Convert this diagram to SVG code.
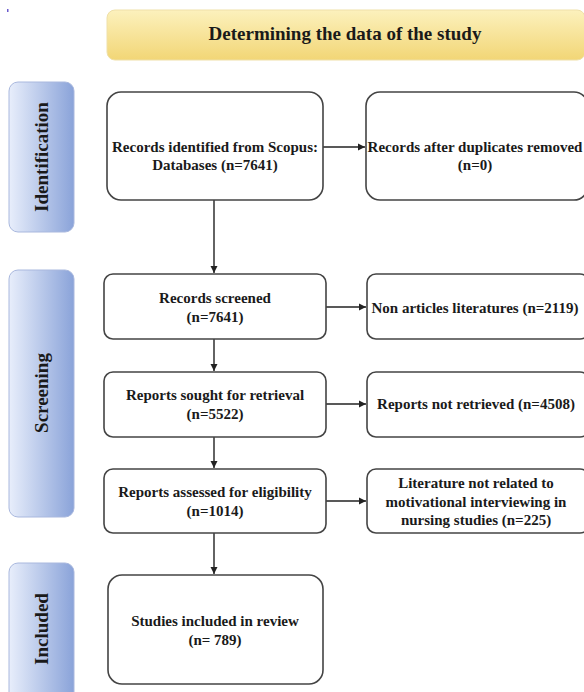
<svg xmlns="http://www.w3.org/2000/svg" width="584" height="692" viewBox="0 0 584 692">
<defs>
<linearGradient id="gBanner" x1="0" y1="0" x2="0" y2="1">
<stop offset="0" stop-color="#fcf1bd"/>
<stop offset="1" stop-color="#f2d676"/>
</linearGradient>
<linearGradient id="gSide" x1="0" y1="0" x2="1" y2="0">
<stop offset="0" stop-color="#e8eefb"/>
<stop offset="1" stop-color="#8aa3d9"/>
</linearGradient>
<marker id="arr" markerWidth="8" markerHeight="8" refX="7" refY="4" orient="auto" markerUnits="userSpaceOnUse">
<path d="M0,0.5 L7,4 L0,7.5 Z" fill="#222"/>
</marker>
<style>
.box{fill:#fff;stroke:#444;stroke-width:1.6}
.side{fill:url(#gSide);stroke:#a9b8de;stroke-width:1}
.t{font-family:"Liberation Serif","Times New Roman",serif;font-weight:bold;font-size:15px;fill:#1a1a1a;text-anchor:middle}
.st{font-family:"Liberation Serif","Times New Roman",serif;font-weight:bold;font-size:19px;fill:#1a1a1a;text-anchor:middle}
.c{stroke:#222;stroke-width:1.4;fill:none;marker-end:url(#arr)}
</style>
</defs>
<rect x="0" y="0" width="584" height="692" fill="#fff"/>
<rect x="7" y="9" width="1.5" height="3" fill="#6a5acd"/>

<g id="banner">
<rect x="107" y="10" width="478" height="50" rx="8" fill="url(#gBanner)" stroke="#efe0a8" stroke-width="1"/>
<text x="345" y="40" class="st" font-size="20">Determining the data of the study</text>
</g>

<g id="side-identification">
<rect x="9" y="82" width="65" height="150" rx="9" class="side"/>
<text class="st" transform="translate(48,157) rotate(-90)">Identification</text>
</g>
<g id="side-screening">
<rect x="9" y="270" width="65" height="247" rx="9" class="side"/>
<text class="st" transform="translate(48,393) rotate(-90)">Screening</text>
</g>
<g id="side-included">
<rect x="9" y="563" width="65" height="140" rx="9" class="side"/>
<text class="st" transform="translate(48,629) rotate(-90)">Included</text>
</g>

<g id="connectors">
<line x1="323" y1="147" x2="365" y2="147" class="c"/>
<line x1="214" y1="200" x2="214" y2="273" class="c"/>
<line x1="326" y1="307" x2="366" y2="307" class="c"/>
<line x1="214" y1="339" x2="214" y2="371" class="c"/>
<line x1="326" y1="404" x2="366" y2="404" class="c"/>
<line x1="214" y1="437" x2="214" y2="468" class="c"/>
<line x1="326" y1="501" x2="366" y2="501" class="c"/>
<line x1="214" y1="533" x2="214" y2="574" class="c"/>
</g>

<g id="n1">
<rect x="107" y="92" width="216" height="108" rx="14" class="box"/>
<text class="t" x="215" y="152">Records identified from Scopus:</text>
<text class="t" x="215" y="170">Databases (n=7641)</text>
</g>
<g id="n2">
<rect x="366" y="92" width="222" height="108" rx="14" class="box"/>
<text class="t" x="475" y="152">Records after duplicates removed</text>
<text class="t" x="475" y="170">(n=0)</text>
</g>
<g id="n3">
<rect x="104" y="274" width="222" height="65" rx="9" class="box"/>
<text class="t" x="215" y="303">Records screened</text>
<text class="t" x="215" y="322">(n=7641)</text>
</g>
<g id="n4">
<rect x="367" y="274" width="222" height="65" rx="9" class="box"/>
<text class="t" x="475" y="313">Non articles literatures (n=2119)</text>
</g>
<g id="n5">
<rect x="104" y="372" width="222" height="65" rx="9" class="box"/>
<text class="t" x="215" y="400">Reports sought for retrieval</text>
<text class="t" x="215" y="419">(n=5522)</text>
</g>
<g id="n6">
<rect x="367" y="372" width="222" height="65" rx="9" class="box"/>
<text class="t" x="476" y="409">Reports not retrieved (n=4508)</text>
</g>
<g id="n7">
<rect x="104" y="469" width="222" height="64" rx="9" class="box"/>
<text class="t" x="215" y="497">Reports assessed for eligibility</text>
<text class="t" x="215" y="516">(n=1014)</text>
</g>
<g id="n8">
<rect x="367" y="469" width="222" height="64" rx="9" class="box"/>
<text class="t" x="476" y="488">Literature not related to</text>
<text class="t" x="476" y="507">motivational interviewing in</text>
<text class="t" x="476" y="525">nursing studies (n=225)</text>
</g>
<g id="n9">
<rect x="108" y="575" width="215" height="109" rx="14" class="box"/>
<text class="t" x="215" y="626">Studies included in review</text>
<text class="t" x="215" y="645">(n= 789)</text>
</g>
</svg>
